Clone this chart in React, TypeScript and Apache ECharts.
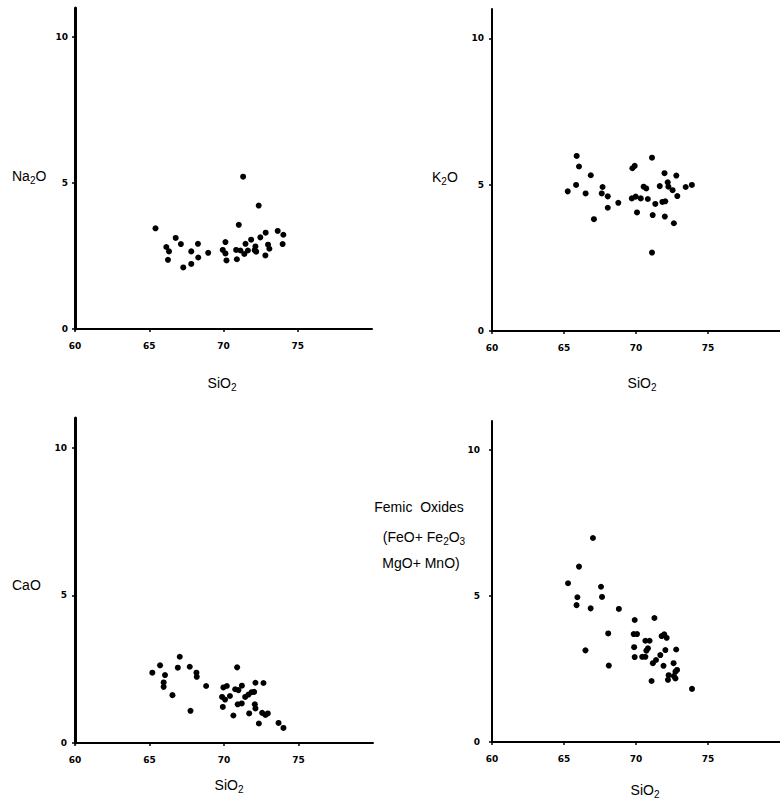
import React, { useEffect, useRef } from "react";
import * as echarts from "echarts";

// SiO2 (x) vs oxide (y)
const na2oPoints: number[][] = [
  [65.42, 3.45], [66.15, 2.81], [66.33, 2.66], [66.26, 2.37], [66.78, 3.12],
  [67.13, 2.91], [67.29, 2.11], [67.83, 2.66], [67.83, 2.23], [68.28, 2.92],
  [68.3, 2.45], [68.97, 2.61], [69.95, 2.71], [70.13, 2.98], [70.13, 2.59],
  [70.2, 2.35], [70.85, 2.71], [70.9, 2.39], [71.03, 3.57], [71.32, 5.22],
  [71.14, 2.69], [71.4, 2.57], [71.48, 2.92], [71.64, 2.69], [71.86, 3.06],
  [72.1, 2.7], [72.15, 2.83], [72.2, 2.65], [72.37, 4.23], [72.48, 3.14],
  [72.84, 3.3], [72.82, 2.52], [73.0, 2.89], [73.09, 2.75], [73.65, 3.36],
  [74.03, 3.23], [73.98, 2.91],
];

const k2oPoints: number[][] = [
  [65.26, 4.77], [65.88, 5.98], [65.84, 4.99], [66.04, 5.62], [66.5, 4.7],
  [66.86, 5.32], [67.08, 3.82], [67.62, 4.7], [67.68, 4.92], [68.04, 4.6],
  [68.04, 4.21], [68.77, 4.38], [69.75, 5.56], [69.91, 5.64], [69.71, 4.53],
  [69.98, 4.59], [70.07, 4.05], [70.33, 4.53], [70.53, 4.93], [70.71, 4.87],
  [70.82, 4.51], [71.11, 5.92], [71.16, 3.96], [71.34, 4.34], [71.65, 4.95],
  [71.83, 4.41], [72.03, 4.43], [71.98, 5.39], [72.0, 3.91], [72.2, 5.08],
  [72.25, 4.93], [72.54, 4.81], [72.63, 3.68], [72.8, 5.31], [72.87, 4.61],
  [73.45, 4.92], [73.88, 4.99], [71.11, 2.68],
];

const caoPoints: number[][] = [
  [65.19, 2.38], [65.71, 2.63], [66.04, 2.3], [65.95, 2.05], [65.95, 1.9],
  [66.54, 1.62], [67.03, 2.92], [66.9, 2.55], [67.7, 2.58], [68.15, 2.38],
  [68.17, 2.24], [67.75, 1.09], [68.8, 1.93], [69.96, 1.88], [70.19, 1.93],
  [69.87, 1.56], [69.92, 1.22], [70.07, 1.47], [70.4, 1.59], [70.63, 0.93],
  [70.88, 2.56], [70.75, 1.82], [70.97, 1.79], [71.2, 1.94], [70.92, 1.31],
  [71.19, 1.34], [71.42, 1.56], [71.64, 1.64], [71.86, 1.72], [72.02, 1.73],
  [72.11, 2.04], [72.65, 2.03], [71.69, 1.0], [72.07, 1.31], [72.11, 1.17],
  [72.34, 0.66], [72.56, 1.02], [72.78, 0.95], [72.94, 1.0], [73.66, 0.68],
  [73.99, 0.51],
];

const femicPoints: number[][] = [
  [65.28, 5.44], [66.04, 6.01], [67.01, 6.99], [65.93, 4.96], [65.87, 4.69],
  [66.85, 4.58], [66.49, 3.14], [67.57, 5.32], [67.64, 4.97], [68.81, 4.56],
  [68.07, 3.72], [68.11, 2.62], [69.91, 4.18], [69.84, 3.7], [70.07, 3.7],
  [69.87, 3.25], [69.91, 2.91], [71.28, 4.25], [70.65, 3.47], [70.94, 3.47],
  [70.83, 3.21], [70.72, 3.13], [70.43, 2.92], [70.65, 2.92], [71.17, 2.7],
  [71.39, 2.81], [71.08, 2.09], [71.78, 3.63], [71.96, 3.69], [72.13, 3.57],
  [71.69, 2.98], [72.04, 3.15], [71.91, 2.61], [72.61, 2.7], [72.79, 3.17],
  [72.85, 2.47], [72.63, 2.26], [72.27, 2.29], [72.22, 2.13], [72.74, 2.18],
  [73.89, 1.82], [72.74, 2.41],
];

const xTicks = [60, 65, 70, 75];
const yTicks = [0, 5, 10];

const FONT = "Liberation Sans, Arial, sans-serif";
const TICK_FONT = "DejaVu Sans, sans-serif";

export default function App() {
  const ref = useRef<HTMLDivElement>(null);

  useEffect(() => {
    if (!ref.current) return;
    const chart = echarts.init(ref.current, undefined, { renderer: "svg" });

    const grids = [
      { left: 75, top: 8, width: 297, height: 321, yw: 3, ym: 7 },
      { left: 492, top: 9, width: 298, height: 322, yw: 2, ym: 8 },
      { left: 75, top: 418, width: 298, height: 325, yw: 3, ym: 8 },
      { left: 492, top: 421, width: 298, height: 321, yw: 2, ym: 12 },
    ];
    const dataSets = [na2oPoints, k2oPoints, caoPoints, femicPoints];

    const rich = {
      n: { fontSize: 14, lineHeight: 18, fontFamily: FONT, color: "#000" },
      s: { fontSize: 10, lineHeight: 8, verticalAlign: "bottom", fontFamily: FONT, color: "#000" },
    };

    const chemText = (text: string, x: number, y: number, align = "left") => ({
      type: "text",
      x,
      y,
      style: {
        text,
        rich,
        align,
        verticalAlign: "middle",
        fill: "#000",
      },
    });

    const option: any = {
      animation: false,
      backgroundColor: "#fff",
      grid: grids.map((g) => ({ left: g.left, top: g.top, width: g.width, height: g.height })),
      xAxis: grids.map((g, i) => ({
        type: "value",
        gridIndex: i,
        min: 60,
        max: 80,
        splitLine: { show: false },
        axisLine: { onZero: false, lineStyle: { color: "#000", width: 2 } },
        axisTick: { show: true, length: 3, customValues: xTicks, lineStyle: { color: "#000", width: 1.5 } },
        axisLabel: {
          customValues: xTicks,
          margin: 12,
          color: "#000",
          fontSize: 9,
          fontWeight: "bold",
          fontFamily: TICK_FONT,
        },
      })),
      yAxis: grids.map((g, i) => ({
        type: "value",
        gridIndex: i,
        min: 0,
        max: 11,
        splitLine: { show: false },
        axisLine: { onZero: false, lineStyle: { color: "#000", width: g.yw } },
        axisTick: { show: true, length: 3, customValues: yTicks, lineStyle: { color: "#000", width: 1.5 } },
        axisLabel: {
          customValues: yTicks,
          margin: g.ym,
          color: "#000",
          fontSize: 9,
          fontWeight: "bold",
          fontFamily: TICK_FONT,
        },
      })),
      series: dataSets.map((d, i) => ({
        type: "scatter",
        xAxisIndex: i,
        yAxisIndex: i,
        data: d,
        symbol: "circle",
        symbolSize: 6,
        itemStyle: { color: "#000", opacity: 1 },
      })),
      graphic: [
        chemText("{n|Na}{s|2}{n|O}", 12, 176),
        chemText("{n|K}{s|2}{n|O}", 432, 177),
        chemText("{n|CaO}", 12, 585),
        chemText("{n|SiO}{s|2}", 222, 383, "center"),
        chemText("{n|SiO}{s|2}", 642, 383, "center"),
        chemText("{n|SiO}{s|2}", 229, 785, "center"),
        chemText("{n|SiO}{s|2}", 645, 790, "center"),
        chemText("{n|Femic  Oxides}", 419, 507, "center"),
        chemText("{n|(FeO+ Fe}{s|2}{n|O}{s|3}", 424, 537, "center"),
        chemText("{n|MgO+ MnO)}", 421, 563, "center"),
      ],
    };

    chart.setOption(option);
    return () => chart.dispose();
  }, []);

  return (
    <div
      ref={ref}
      style={{ position: "absolute", left: 0, top: 0, width: 780, height: 807, background: "#fff" }}
    />
  );
}
